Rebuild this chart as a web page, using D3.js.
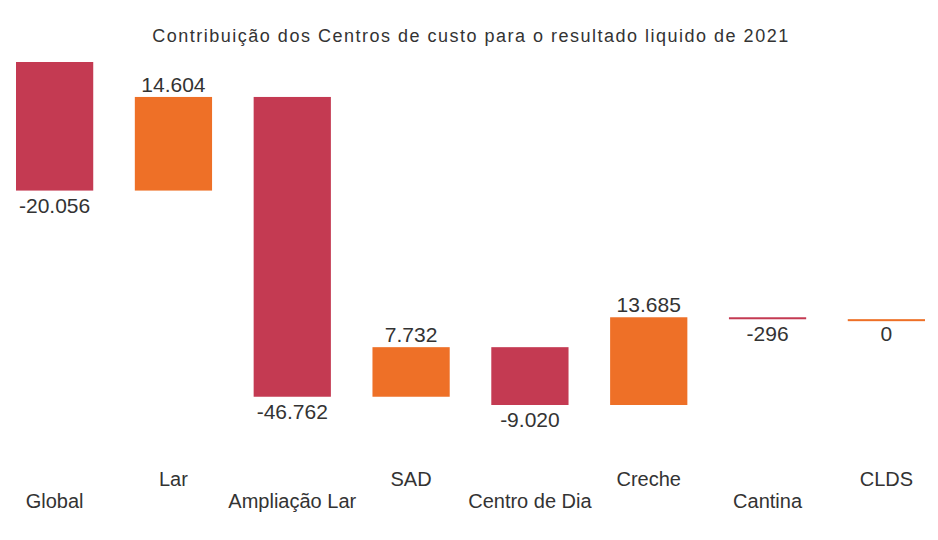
<!DOCTYPE html>
<html>
<head>
<meta charset="utf-8">
<script src="https://cdn.jsdelivr.net/npm/d3@7"></script>
<style>
  body { margin: 0; background: #fff; }
  svg { display: block; font-family: "Liberation Sans", Arial, sans-serif; }
</style>
</head>
<body>
<div id="chart"></div>
<script>
const categories = ["Global", "Lar", "Ampliação Lar", "SAD", "Centro de Dia", "Creche", "Cantina", "CLDS"];
const values = [-20056, 14604, -46762, 7732, -9020, 13685, -296, 0];
const valueLabels = ["-20.056", "14.604", "-46.762", "7.732", "-9.020", "13.685", "-296", "0"];
const title = "Contribuição dos Centros de custo para o resultado liquido de 2021";

const colors = { neg: "#c43a52", pos: "#ee7027" };

function drawChart() {
  const width = 938;
  const height = 540;

  const svg = d3.select("#chart").append("svg")
      .attr("width", width)
      .attr("height", height);

  // running totals for the waterfall
  let run = 0;
  const data = values.map((v, i) => {
    const start = run;
    run += v;
    return { name: categories[i], value: v, label: valueLabels[i], start: start, end: run };
  });

  const x = d3.scaleBand()
      .domain(categories)
      .range([16, 925])
      .paddingInner(0.35)
      .paddingOuter(0);

  const y = d3.scaleLinear()
      .domain([d3.min(data, d => Math.min(d.start, d.end)), 0])
      .range([405, 62]);

  svg.append("text")
      .attr("x", 471)
      .attr("y", 42)
      .attr("text-anchor", "middle")
      .style("font-size", "18px")
      .style("letter-spacing", "1.5px")
      .style("fill", "#333")
      .text(title);

  svg.append("g")
    .selectAll("rect")
    .data(data)
    .join("rect")
      .attr("x", d => x(d.name))
      .attr("width", x.bandwidth())
      .attr("y", d => y(Math.max(d.start, d.end)))
      .attr("height", d => Math.max(2, Math.abs(y(d.start) - y(d.end))))
      .attr("fill", d => d.value >= 0 ? colors.pos : colors.neg);

  svg.append("g")
      .style("font-size", "21px")
      .style("fill", "#333")
      .attr("text-anchor", "middle")
    .selectAll("text")
    .data(data)
    .join("text")
      .attr("x", d => x(d.name) + x.bandwidth() / 2)
      .attr("y", d => d.value > 0
        ? y(Math.max(d.start, d.end)) - 5
        : y(Math.min(d.start, d.end)) + 22)
      .text(d => d.label);

  // category labels, staggered on two rows
  svg.append("g")
      .style("font-size", "20px")
      .style("fill", "#333")
      .attr("text-anchor", "middle")
    .selectAll("text")
    .data(data)
    .join("text")
      .attr("x", d => x(d.name) + x.bandwidth() / 2)
      .attr("y", (d, i) => i % 2 === 0 ? 508 : 486)
      .text(d => d.name);

  return svg.node();
}

drawChart();
</script>
</body>
</html>
